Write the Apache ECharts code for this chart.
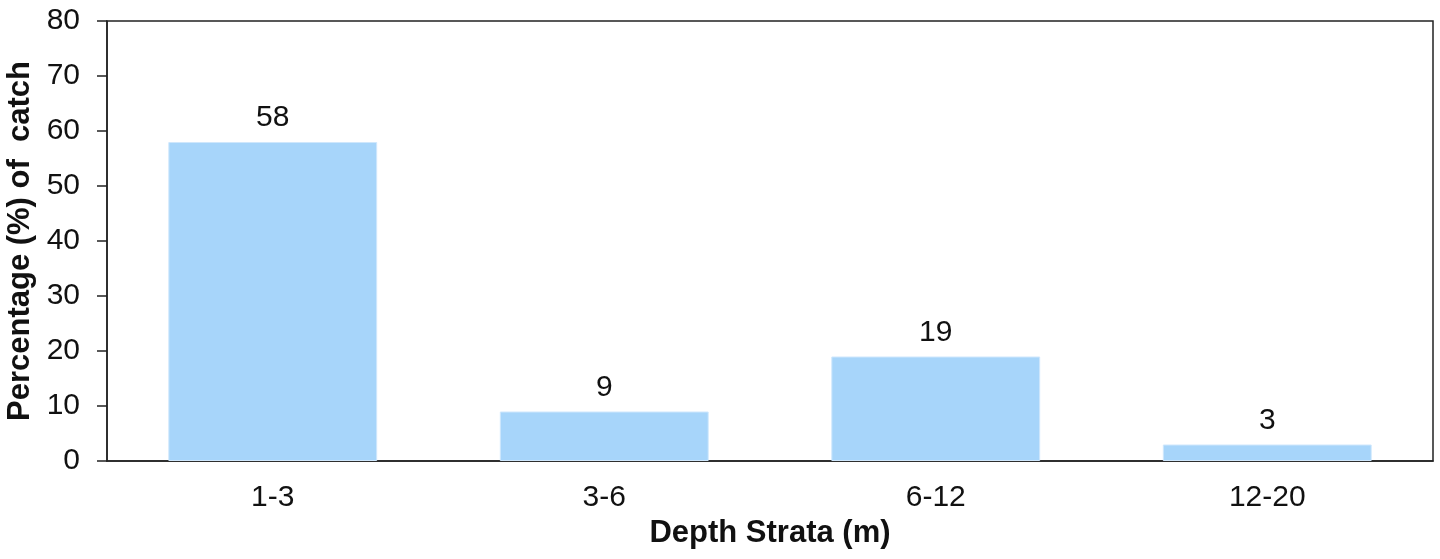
<!DOCTYPE html>
<html>
<head>
<meta charset="utf-8">
<script src="https://cdn.jsdelivr.net/npm/echarts@6/dist/echarts.min.js"></script>
<style>
  html, body { margin: 0; padding: 0; background: #ffffff; }
  #chart { width: 1440px; height: 559px; }
</style>
</head>
<body>
<div id="chart"></div>
<script>
// Depth strata categories and catch share per stratum (%)
const depthStrata = ['1-3', '3-6', '6-12', '12-20'];
const catchPercent = [58, 9, 19, 3];
const yTicks = [0, 10, 20, 30, 40, 50, 60, 70, 80];

const font = 'Arial, "Liberation Sans", Helvetica, sans-serif';
const chart = echarts.init(document.getElementById('chart'));

chart.setOption({
  backgroundColor: '#ffffff',
  animation: false,
  grid: {
    left: 107, right: 7, top: 21, bottom: 98,
    containLabel: false,
    outerBoundsMode: 'none',
    show: true,
    borderColor: '#222',
    borderWidth: 1.5,
    backgroundColor: 'transparent'
  },
  xAxis: {
    type: 'category',
    data: depthStrata,
    name: 'Depth Strata (m)',
    nameLocation: 'middle',
    nameGap: 57,
    nameTextStyle: { fontFamily: font, fontSize: 31, fontWeight: 'bold', color: '#111' },
    axisLine: { show: true, lineStyle: { color: '#222', width: 1.5 } },
    axisTick: { show: false },
    axisLabel: { fontFamily: font, fontSize: 30, color: '#111', margin: 22 }
  },
  yAxis: {
    type: 'value',
    min: yTicks[0],
    max: yTicks[yTicks.length - 1],
    interval: 10,
    name: 'Percentage (%) of  catch',
    nameLocation: 'middle',
    nameGap: 67,
    nameTextStyle: { fontFamily: font, fontSize: 31, fontWeight: 'bold', color: '#111' },
    axisLine: { show: true, lineStyle: { color: '#222', width: 1.5 } },
    axisTick: { show: true, inside: false, length: 10, lineStyle: { color: '#222', width: 1.5 } },
    axisLabel: { fontFamily: font, fontSize: 30, color: '#111', margin: 27 },
    splitLine: { show: false }
  },
  series: [{
    type: 'bar',
    data: catchPercent,
    barWidth: '63%',
    itemStyle: { color: '#A7D5FA', borderColor: '#CFE7FC', borderWidth: 1 },
    label: {
      show: true,
      position: 'top',
      distance: 9,
      fontFamily: font,
      fontSize: 30,
      color: '#111'
    }
  }]
});
</script>
</body>
</html>
